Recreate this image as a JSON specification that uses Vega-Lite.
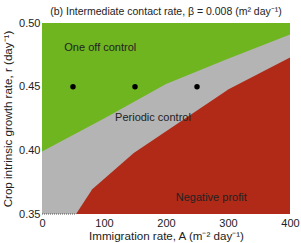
{
  "$schema": "https://vega.github.io/schema/vega-lite/v6.json",
  "width": 248,
  "height": 191,
  "autosize": "none",
  "padding": {"left": 42, "top": 23, "right": 11, "bottom": 29},
  "background": "white",
  "config": {
    "font": "Liberation Sans",
    "view": {"stroke": null},
    "axis": {"grid": false, "domain": false, "ticks": false, "labelColor": "#222", "titleColor": "#222", "labelFontSize": 11, "titleFontSize": 11.6, "titleFontWeight": "normal", "labelFont": "Liberation Sans", "titleFont": "Liberation Sans"}
  },
  "title": {"text": "(b) Intermediate contact rate, β = 0.008 (m² day⁻¹)", "fontSize": 10.5, "fontWeight": "normal", "color": "#222", "font": "Liberation Sans", "offset": 0, "anchor": "middle"},
  "datasets": {
    "green": [{"A": 0, "r": 0.5}, {"A": 400, "r": 0.5}],
    "gray": [{"A": 0, "r": 0.399}, {"A": 100, "r": 0.425}, {"A": 200, "r": 0.452}, {"A": 300, "r": 0.472}, {"A": 400, "r": 0.491}],
    "red": [{"A": 55, "r": 0.35}, {"A": 81, "r": 0.3695}, {"A": 148, "r": 0.398}, {"A": 301, "r": 0.448}, {"A": 400, "r": 0.473}],
    "dotted": [{"A": 0, "r": 0.35, "A2": 55}],
    "points": [{"A": 50, "r": 0.45}, {"A": 150, "r": 0.45}, {"A": 250, "r": 0.45}],
    "labels": [
      {"A": 94, "r": 0.48, "label": "One off control"},
      {"A": 179, "r": 0.4255, "label": "Periodic control"},
      {"A": 273, "r": 0.3625, "label": "Negative profit"}
    ]
  },
  "encoding": {
    "x": {"field": "A", "type": "quantitative", "scale": {"domain": [0, 400], "nice": false}, "axis": {"values": [0, 100, 200, 300, 400], "labelPadding": 3, "title": "Immigration rate, A (m⁻² day⁻¹)", "titlePadding": 2, "labelFlush": false}},
    "y": {"field": "r", "type": "quantitative", "scale": {"domain": [0.35, 0.5], "nice": false, "zero": false}, "axis": {"values": [0.35, 0.4, 0.45, 0.5], "labelPadding": 2, "title": "Crop intrinsic growth rate, r (day⁻¹)", "titlePadding": 5, "labelFlush": false}}
  },
  "layer": [
    {"data": {"name": "green"}, "mark": {"type": "area", "color": "#6fb51f", "clip": true}, "encoding": {"y2": {"datum": 0.35}}},
    {"data": {"name": "gray"}, "mark": {"type": "area", "color": "#b4b4b4", "clip": true}, "encoding": {"y2": {"datum": 0.35}}},
    {"data": {"name": "red"}, "mark": {"type": "area", "color": "#b02a17", "clip": true}, "encoding": {"y2": {"datum": 0.35}}},
    {"data": {"name": "dotted"}, "mark": {"type": "rule", "color": "#555", "strokeDash": [1, 1], "strokeWidth": 1}, "encoding": {"x2": {"field": "A2"}}},
    {"data": {"name": "points"}, "mark": {"type": "circle", "color": "black", "opacity": 1, "size": 30}},
    {"data": {"name": "labels"}, "mark": {"type": "text", "fontSize": 11, "color": "#222", "font": "Liberation Sans"}, "encoding": {"text": {"field": "label"}}}
  ]
}
